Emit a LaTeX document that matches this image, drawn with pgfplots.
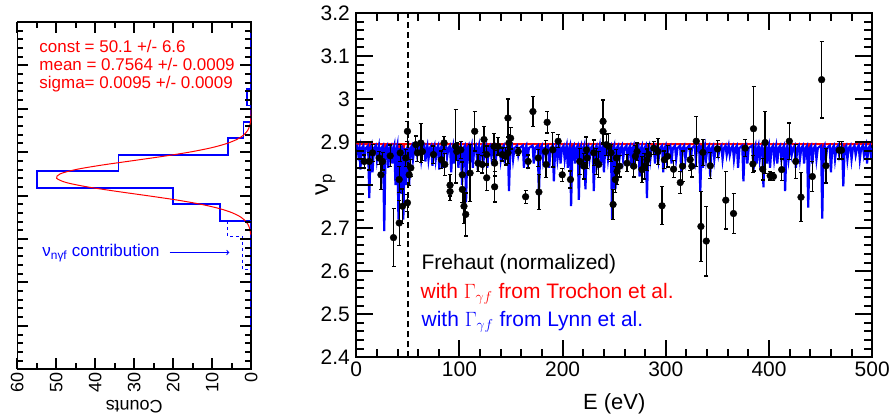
\documentclass[border=0pt]{standalone}
\usepackage{fontspec}
\setmainfont{Liberation Sans}
\usepackage{pgfplots}
\usepackage{pgfplotstable}
\pgfplotsset{compat=1.18}

% Frehaut data (normalized): E, nu_p, error
\pgfplotstableread{
E nu err
7.7 2.855 0.015
12.6 2.855 0.02
15.8 2.875 0.02
22.2 2.863 0.015
23.9 2.824 0.035
25.5 2.855 0.02
32.9 2.868 0.025
36.1 2.678 0.067
41.6 2.712 0.052
41.6 2.813 0.03
42.6 2.875 0.02
44.8 2.751 0.04
48.0 2.863 0.02
49.6 2.925 0.023
49.6 2.759 0.02
51.3 2.824 0.025
52.9 2.840 0.02
57.7 2.894 0.02
59.3 2.875 0.02
62.6 2.898 0.045
64.1 2.878 0.02
74.8 2.871 0.02
82.5 2.859 0.02
85.1 2.898 0.015
85.8 2.848 0.025
90.9 2.800 0.025
90.9 2.785 0.02
96.4 2.890 0.085
97.4 2.878 0.02
101.3 2.882 0.02
102.8 2.824 0.03
102.8 2.790 0.03
104.4 2.751 0.04
106.1 2.732 0.05
110.3 2.828 0.066
114.8 2.925 0.046
118.0 2.851 0.02
122.1 2.848 0.02
123.8 2.906 0.03
126.4 2.871 0.02
126.4 2.817 0.03
133.5 2.890 0.03
134.1 2.851 0.03
134.1 2.796 0.035
137.3 2.890 0.02
141.5 2.871 0.015
144.8 2.867 0.02
147.0 2.956 0.044
148.0 2.898 0.02
149.6 2.909 0.025
147.0 2.875 0.025
157.0 2.878 0.01
164.1 2.773 0.015
166.6 2.855 0.015
171.2 2.971 0.035
176.3 2.863 0.02
177.0 2.784 0.04
183.4 2.878 0.025
184.0 2.848 0.03
185.0 2.946 0.025
190.5 2.882 0.04
195.7 2.902 0.015
199.6 2.824 0.015
207.6 2.813 0.02
216.6 2.855 0.03
220.5 2.844 0.03
223.1 2.882 0.03
223.7 2.863 0.025
230.2 2.875 0.03
232.8 2.855 0.03
235.0 2.848 0.03
239.2 2.948 0.05
239.2 2.925 0.03
242.4 2.894 0.025
244.7 2.890 0.03
246.9 2.875 0.02
248.9 2.755 0.035
251.1 2.813 0.03
252.1 2.863 0.02
252.7 2.832 0.03
255.3 2.844 0.025
262.4 2.851 0.02
268.9 2.844 0.025
270.5 2.867 0.025
272.1 2.878 0.02
276.9 2.836 0.03
279.3 2.844 0.03
281.8 2.859 0.025
283.4 2.871 0.025
288.3 2.886 0.015
292.4 2.878 0.03
296.3 2.752 0.044
298.6 2.859 0.02
301.7 2.867 0.025
307.5 2.837 0.02
314.0 2.806 0.025
316.2 2.844 0.035
323.6 2.859 0.025
325.2 2.844 0.025
329.5 2.902 0.058
334.0 2.704 0.081
335.9 2.876 0.03
339.2 2.670 0.081
343.1 2.845 0.03
350.1 2.884 0.02
358.1 2.765 0.067
365.6 2.734 0.046
376.9 2.886 0.02
384.4 2.849 0.02
385.0 2.931 0.098
393.9 2.837 0.025
396.2 2.899 0.072
401.1 2.822 0.01
404.3 2.820 0.01
412.3 2.836 0.025
419.7 2.902 0.042
425.9 2.855 0.04
431.0 2.772 0.057
442.0 2.820 0.035
451.0 3.045 0.089
455.2 2.845 0.04
468.0 2.881 0.02
470.3 2.881 0.02
}\frehaut

\newcommand{\fs}[1]{\fontsize{#1}{#1}\selectfont}

\begin{document}
\begin{tikzpicture}
\path (0,0) rectangle (893pt,420pt);

% ---- left panel: rotated histogram ----
\begin{axis}[
 at={(17.3pt,50pt)},anchor=south west,scale only axis,
 width=234.4pt,height=348pt,
 x dir=reverse,xmin=0,xmax=60,ymin=2.4,ymax=3.2,
 xtick={0,10,20,30,40,50,60},minor x tick num=1,
 ytick={2.4,2.5,2.6,2.7,2.8,2.9,3.0,3.1,3.2},yticklabels={},minor y tick num=4,
 tick align=inside,
 major tick length=11pt,minor tick length=6pt,
 tick style={draw=black,line width=1.2pt},
 axis line style={line width=1.5pt},
 xticklabel style={rotate=90,anchor=east,font=\fs{18}},
 xticklabel={\pgfmathprintnumber[assume math mode=true]{\tick}},
]
\addplot[blue,line width=1.6pt,const plot mark right] coordinates
 {(0,2.49) (0,2.742) (8,2.742) (20,2.780) (55,2.818) (34,2.856) (6,2.894) (2,2.932) (0,2.970) (1,3.008) (0,3.046) (0,3.2)};
\addplot[blue,line width=1.4pt,dashed,const plot mark right] coordinates
 {(6,2.742) (2.2,2.706) (0,2.630)};
\addplot[red,line width=1pt,smooth] coordinates {
 (0.11,2.71) (0.28,2.72) (0.62,2.73) (1.32,2.74) (2.59,2.75) (4.74,2.76) (8.10,2.77)
 (12.9,2.78) (19.2,2.79) (26.8,2.80) (34.7,2.81) (42.0,2.82) (47.4,2.83) (49.9,2.84)
 (49.0,2.85) (45.0,2.86) (38.5,2.87) (30.7,2.88) (22.9,2.89) (15.9,2.90) (10.3,2.91)
 (6.25,2.92) (3.53,2.93) (1.86,2.94) (0.92,2.95) (0.42,2.96) (0.18,2.97) (0.07,2.98)
 (0.03,2.99) (0.01,3.00)};
\draw[->,blue,line width=1pt] (axis cs:20.9,2.669) -- (axis cs:5.6,2.669);
\end{axis}

% ---- right panel ----
\begin{axis}[
 at={(357pt,62pt)},anchor=south west,scale only axis,
 width=517pt,height=345pt,
 xmin=0,xmax=500,ymin=2.4,ymax=3.2,
 xtick={0,100,200,300,400,500},minor x tick num=4,
 ytick={2.4,2.5,2.6,2.7,2.8,2.9,3.0,3.1,3.2},minor y tick num=4,
 yticklabels={2.4,2.5,2.6,2.7,,2.9,3,3.1,3.2},
 tick align=inside,
 major tick length=17pt,minor tick length=8pt,
 tick style={draw=black,line width=1.3pt},
 axis line style={line width=1.6pt},
 xticklabel={\pgfmathprintnumber[assume math mode=true]{\tick}},
 ticklabel style={font=\fs{21}},
 yticklabel style={xshift=-3pt},
 xticklabel style={yshift=-1pt},
]
\addplot[red,line width=2pt] coordinates {
 (0,2.895) (12,2.895) (12.6,2.86) (13.4,2.895) (26.5,2.895) (27.1,2.84) (27.9,2.895)
 (40.3,2.895) (40.9,2.85) (41.7,2.895) (45,2.895) (45.6,2.85) (46.4,2.895)
 (105.8,2.895) (106.4,2.86) (107.2,2.895) (147.4,2.895) (148,2.87) (148.8,2.895)
 (176.4,2.895) (177,2.87) (177.8,2.895) (207.6,2.895) (208.2,2.86) (209,2.895)
 (215.1,2.895) (215.7,2.87) (216.5,2.895) (247.3,2.895) (247.9,2.85) (248.7,2.895)
 (281.1,2.895) (281.7,2.87) (282.5,2.895) (333,2.895) (333.4,2.87) (334.2,2.895)
 (437.4,2.895) (438,2.86) (438.8,2.895) (451,2.895) (451.6,2.85) (452.4,2.895)
 (471.4,2.895) (472,2.87) (472.8,2.895) (500,2.895)};
\addplot[blue,line width=2.2pt] coordinates {
 (0,2.892) (0.9,2.892) (2,2.87) (3.3,2.886) (4,2.836) (5.3,2.886)
 (6.9,2.892) (8,2.86) (9.3,2.886) (11.5,2.892) (12.6,2.77) (13.9,2.886)
 (14.7,2.892) (15.8,2.83) (17.1,2.886) (18.9,2.892) (20,2.86) (21.3,2.886)
 (21.9,2.892) (23,2.85) (24.3,2.886) (26,2.892) (27.1,2.693) (28.4,2.886)
 (29.9,2.892) (31,2.84) (32.3,2.886) (33.9,2.892) (35,2.85) (36.3,2.886)
 (36.9,2.892) (38,2.80) (39.3,2.886) (39.8,2.892) (40.9,2.72) (42.2,2.886)
 (43,2.78) (44.3,2.886) (44.5,2.892) (45.6,2.72) (46.9,2.886)
 (48,2.80) (49.3,2.886) (50.2,2.892) (51.3,2.80) (52.6,2.886)
 (53.9,2.892) (55,2.86) (56.3,2.886) (57.9,2.892) (59,2.87) (60.3,2.886)
 (61.9,2.892) (63,2.86) (64.3,2.886) (65.9,2.892) (67,2.855) (68.3,2.886)
 (68.9,2.892) (70,2.86) (71.3,2.886) (72.7,2.892) (73.8,2.845) (75.1,2.886)
 (75.9,2.892) (77,2.86) (78.3,2.886) (79.4,2.892) (80.5,2.836) (81.8,2.886)
 (82.9,2.892) (84,2.84) (85.3,2.886) (86.9,2.892) (88,2.865) (89.3,2.886)
 (90.9,2.892) (92,2.83) (93.3,2.886) (93.9,2.892) (95,2.85) (96.3,2.886)
 (97.9,2.892) (99,2.84) (100.3,2.886) (101.4,2.892) (102.5,2.80) (103.8,2.886)
 (105.3,2.892) (106.4,2.76) (107.7,2.886) (108.9,2.892) (110,2.85) (111.3,2.886)
 (111.9,2.892) (113,2.84) (114.3,2.886) (115.9,2.892) (117,2.86) (118.3,2.886)
 (118.9,2.892) (120,2.85) (121.3,2.886) (122.4,2.892) (123.5,2.86) (124.8,2.886)
 (125.9,2.892) (127,2.84) (128.3,2.886) (129.9,2.892) (131,2.865) (132.3,2.886)
 (133.9,2.892) (135,2.85) (136.3,2.886) (138.9,2.892) (140,2.86) (141.3,2.886)
 (142.9,2.892) (144,2.85) (145.3,2.886) (146.9,2.892) (148,2.786) (149.3,2.886)
 (150.9,2.892) (152,2.86) (153.3,2.886) (155.9,2.892) (157,2.87) (158.3,2.886)
 (161.4,2.892) (162.5,2.84) (163.8,2.886) (164.9,2.892) (166,2.86) (167.3,2.886)
 (170.9,2.892) (172,2.85) (173.3,2.886) (175.9,2.892) (177,2.774) (178.3,2.886)
 (179.9,2.892) (181,2.86) (182.3,2.886) (185.9,2.892) (187,2.84) (188.3,2.886)
 (190.4,2.892) (191.5,2.809) (192.8,2.886) (193.9,2.892) (195,2.86) (196.3,2.886)
 (196.9,2.892) (198,2.85) (199.3,2.886) (200.9,2.892) (202,2.86) (203.3,2.886)
 (203.9,2.892) (205,2.84) (206.3,2.886) (207.1,2.892) (208.2,2.751) (209.5,2.886)
 (210.9,2.892) (212,2.85) (213.3,2.886) (214.6,2.892) (215.7,2.766) (217,2.886)
 (217.9,2.892) (219,2.85) (220.3,2.886) (221,2.892) (222.1,2.79) (223.4,2.886)
 (224.9,2.892) (226,2.86) (227.3,2.886) (229.1,2.892) (230.2,2.786) (231.5,2.886)
 (232.9,2.892) (234,2.86) (235.3,2.886) (235.9,2.892) (237,2.85) (238.3,2.886)
 (238.9,2.892) (240,2.83) (241.3,2.886) (242.9,2.892) (244,2.86) (245.3,2.886)
 (246.8,2.892) (247.9,2.72) (249.2,2.886) (250,2.892) (251.1,2.79) (252.4,2.886)
 (253.9,2.892) (255,2.86) (256.3,2.886) (257.5,2.892) (258.6,2.86) (259.9,2.886)
 (261.9,2.892) (263,2.85) (264.3,2.886) (265.6,2.892) (266.7,2.84) (268,2.886)
 (268.9,2.892) (270,2.86) (271.3,2.886) (273.5,2.892) (274.6,2.82) (275.9,2.886)
 (276.9,2.892) (278,2.85) (279.3,2.886) (280.6,2.892) (281.7,2.77) (283,2.886)
 (283.9,2.892) (285,2.86) (286.3,2.886) (288.4,2.892) (289.5,2.85) (290.8,2.886)
 (291.9,2.892) (293,2.86) (294.3,2.886) (296.4,2.892) (297.5,2.83) (298.8,2.886)
 (299.9,2.892) (301,2.86) (302.3,2.886) (304.4,2.892) (305.5,2.85) (306.8,2.886)
 (308.9,2.892) (310,2.86) (311.3,2.886) (313.9,2.892) (315,2.83) (316.3,2.886)
 (317.9,2.892) (319,2.86) (320.3,2.886) (322.9,2.892) (324,2.85) (325.3,2.886)
 (327.9,2.892) (329,2.86) (330.3,2.886) (332.3,2.892) (333.4,2.786) (334.7,2.886)
 (334.9,2.892) (336,2.84) (337.3,2.886) (337.9,2.892) (339,2.86) (340.3,2.886)
 (341.9,2.892) (343,2.82) (344.3,2.886) (345.9,2.892) (347,2.86) (348.3,2.886)
 (349.9,2.892) (351,2.87) (352.3,2.886) (353.9,2.892) (355,2.86) (356.3,2.886)
 (357.9,2.892) (359,2.87) (360.3,2.886) (360.9,2.892) (362,2.87) (363.3,2.886)
 (364.9,2.892) (366,2.86) (367.3,2.886) (368.9,2.892) (370,2.84) (371.3,2.886)
 (374.1,2.892) (375.2,2.809) (376.5,2.886) (377.9,2.892) (379,2.85) (380.3,2.886)
 (383.8,2.892) (384.9,2.83) (386.2,2.886) (386.9,2.892) (388,2.85) (389.3,2.886)
 (389.9,2.892) (391,2.86) (392.3,2.886) (393.5,2.892) (394.6,2.795) (395.9,2.886)
 (396.9,2.892) (398,2.85) (399.3,2.886) (399.9,2.892) (401,2.84) (402.3,2.886)
 (403.9,2.892) (405,2.86) (406.3,2.886) (406.9,2.892) (408,2.85) (409.3,2.886)
 (410.9,2.892) (412,2.86) (413.3,2.886) (414.5,2.892) (415.6,2.786) (416.9,2.886)
 (417.9,2.892) (419,2.86) (420.3,2.886) (420.9,2.892) (422,2.87) (423.3,2.886)
 (424.9,2.892) (426,2.84) (427.3,2.886) (428.9,2.892) (430,2.86) (431.3,2.886)
 (432.9,2.892) (434,2.85) (435.3,2.886) (436.9,2.892) (438,2.748) (439.3,2.886)
 (440.9,2.892) (442,2.85) (443.3,2.886) (444.9,2.892) (446,2.86) (447.3,2.886)
 (450.5,2.892) (451.6,2.722) (452.9,2.886) (453.9,2.892) (455,2.86) (456.3,2.886)
 (458.9,2.892) (460,2.83) (461.3,2.886) (462.9,2.892) (464,2.86) (465.3,2.886)
 (466.9,2.892) (468,2.87) (469.3,2.886) (470.9,2.892) (472,2.797) (473.3,2.886)
 (474.9,2.892) (476,2.86) (477.3,2.886) (478.9,2.892) (480,2.86) (481.3,2.886)
 (482.9,2.892) (484,2.87) (485.3,2.886) (486.9,2.892) (488,2.86) (489.3,2.886)
 (490.9,2.892) (492,2.87) (493.3,2.886) (494,2.892) (495,2.85) (496.3,2.886)
 (497.9,2.892) (499,2.86) (500,2.886)};
\addplot[black,line width=1.3pt,dash pattern=on 6pt off 4pt] coordinates {(50,2.4) (50,3.2)};
\addplot[only marks,mark=*,mark size=3.4pt,black,
 error bars/.cd,y dir=both,y explicit,
 error bar style={line width=1.3pt,black},
 error mark options={rotate=90,mark size=2pt,line width=1.3pt,black}]
 table[x=E,y=nu,y error=err] {\frehaut};
\end{axis}

% ---- tick marks on all four sides of both frames ----
\begin{scope}[line width=2pt,black,line cap=butt]
\foreach \i in {0,...,25}{
 \pgfmathsetmacro\len{mod(\i,5)==0 ? 17 : 8}
 \draw ({(357+\i*20.68)*1pt},62pt) -- ++(0,{\len*1pt});
 \draw ({(357+\i*20.68)*1pt},407pt) -- ++(0,{-\len*1pt});
}
\foreach \i in {0,...,40}{
 \pgfmathsetmacro\len{mod(\i,5)==0 ? 17 : 8}
 \draw (357pt,{(62+\i*8.625)*1pt}) -- ++({\len*1pt},0);
 \draw (874pt,{(62+\i*8.625)*1pt}) -- ++({-\len*1pt},0);
}
\foreach \i in {0,...,12}{
 \pgfmathsetmacro\len{mod(\i,2)==0 ? 11 : 6}
 \draw ({(17.3+\i*19.533)*1pt},50pt) -- ++(0,{\len*1pt});
 \draw ({(17.3+\i*19.533)*1pt},398pt) -- ++(0,{-\len*1pt});
}
\foreach \i in {0,...,40}{
 \pgfmathsetmacro\len{mod(\i,5)==0 ? 11 : 6}
 \draw (17.3pt,{(50+\i*8.7)*1pt}) -- ++({\len*1pt},0);
 \draw (251.7pt,{(50+\i*8.7)*1pt}) -- ++({-\len*1pt},0);
}
\end{scope}

% ---- texts ----
\node[red,anchor=base west,font=\fs{17}] at (36pt,367.7pt) {const = 50.1 +/- 6.6};
\node[red,anchor=base west,font=\fs{17}] at (36pt,349.3pt) {mean = 0.7564 +/- 0.0009};
\node[red,anchor=base west,font=\fs{17}] at (36pt,331pt) {sigma= 0.0095 +/- 0.0009};
\node[blue,anchor=base west,font=\fs{17}] at (39pt,162.7pt) {ν\textsubscript{nγf} contribution};
\node[rotate=180,font=\fs{18}] at (134.5pt,12pt) {Counts};
\node[font=\fs{22}] at (615.5pt,15pt) {E (eV)};
\node[rotate=90,font=\fs{24}] at (326pt,235pt) {ν\textsubscript{p}};
\node[black,anchor=base west,font=\fs{21}] at (419pt,150pt) {Frehaut (normalized)};
\node[red,anchor=base west,font=\fs{21}] at (418pt,120.5pt) {with $\Gamma_{\gamma f}$ from Trochon et al.};
\node[blue,anchor=base west,font=\fs{21}] at (419pt,92.5pt) {with $\Gamma_{\gamma f}$ from Lynn et al.};
\end{tikzpicture}
\end{document}
